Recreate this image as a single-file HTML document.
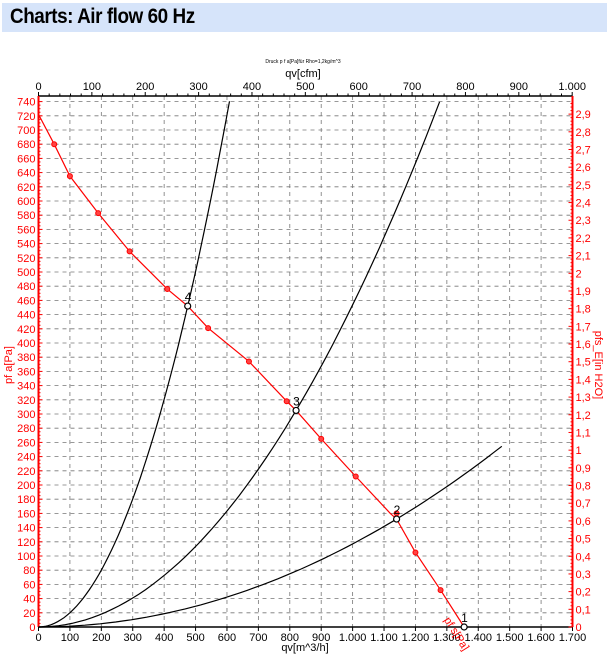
<!DOCTYPE html>
<html><head><meta charset="utf-8"><style>
body{margin:0;background:#fff;width:607px;height:659px;overflow:hidden;font-family:"Liberation Sans",sans-serif}
#hdr{position:absolute;left:2px;top:3px;width:605px;height:29px;background:#d6e4fa}
#hdr span{position:absolute;left:8px;top:2px;font-weight:bold;font-size:21px;letter-spacing:-0.5px;transform:scaleX(0.9);transform-origin:left;color:#000}
svg{position:absolute;left:0;top:0}
</style></head><body>
<div id="hdr"><span>Charts: Air flow 60 Hz</span></div>
<svg id="c" width="607" height="659"></svg>
<script>
const fanQ=[0,50,100,190,290,410,475,540,670,790,820,900,1010,1120,1140,1200,1280,1355];
const fanP=[722,680,635,583,529,476,452,421,374,318,305,265,212,160,152,105,52,0];
const markerQ=[50,100,190,290,410,540,670,790,900,1010,1140,1200,1280];
const markerP=[680,635,583,529,476,421,374,318,265,212,160,105,52];
const sysK=[0.002003,0.0004536,0.000117];
const sysEndQ=[608,1277,1475];
const opLabels=['4','3','2','1'];
const opQ=[475,820,1140,1355];
const opP=[452,305,152,0];
const xTicks=[0,100,200,300,400,500,600,700,800,900,1000,1100,1200,1300,1400,1500,1600,1700];
const cfmTicks=[0,100,200,300,400,500,600,700,800,900,1000];
const yTicks=[0,20,40,60,80,100,120,140,160,180,200,220,240,260,280,300,320,340,360,380,400,420,440,460,480,500,520,540,560,580,600,620,640,660,680,700,720,740];
const inTicks=[0,0.1,0.2,0.3,0.4,0.5,0.6,0.7,0.8,0.9,1,1.1,1.2,1.3,1.4,1.5,1.6,1.7,1.8,1.9,2,2.1,2.2,2.3,2.4,2.5,2.6,2.7,2.8,2.9];

const X0=38.5,X1=572.5,Y0=627,YT=96;
const sx=q=>X0+q*(X1-X0)/1700;
const sy=p=>Y0-p*0.71;
const sc=c=>sx(c*1.699);
const sin=v=>sy(v*249.09);
const svg=document.getElementById('c');
const NS='http://www.w3.org/2000/svg';
function mk(t,a,p){const e=document.createElementNS(NS,t);for(const k in a)e.setAttribute(k,a[k]);(p||svg).appendChild(e);return e;}
const fmt=v=>{let s=String(v);return s.replace(/\B(?=(\d{3})+(?!\d))/g,'.');};

// grid
const g=mk('g',{});


xTicks.forEach(q=>{if(q>0&&q<1700)mk('line',{x1:sx(q),x2:sx(q),y1:YT,y2:Y0,stroke:'#777','stroke-dasharray':'4,4','stroke-width':0.8},g);});
yTicks.forEach(p=>{if(p>0)mk('line',{x1:X0,x2:X1,y1:sy(p),y2:sy(p),stroke:'#777','stroke-dasharray':'4,4','stroke-width':0.8},g);});

// axes
const ax=mk('g',{});


mk('line',{x1:X0,x2:X1,y1:Y0,y2:Y0,stroke:'#000','stroke-width':1.5},ax);
mk('line',{x1:X0,x2:X1,y1:YT,y2:YT,stroke:'#000','stroke-width':1.5},ax);
mk('line',{x1:X0,x2:X0,y1:YT,y2:Y0,stroke:'#f00','stroke-width':2},ax);
mk('line',{x1:X1,x2:X1,y1:YT,y2:Y0,stroke:'#f00','stroke-width':2},ax);
xTicks.forEach(q=>{mk('line',{x1:sx(q),x2:sx(q),y1:Y0,y2:Y0+4,stroke:'#000'},ax);
 const t=mk('text',{x:sx(q),y:Y0+14,'font-size':11,'text-anchor':'middle',fill:'#000'},ax);t.textContent=fmt(q);
 
 });
for(let c=0;c<=1000;c+=20){mk('line',{x1:sc(c),x2:sc(c),y1:YT,y2:YT-(c%100==0?4:2.5),stroke:'#000'},ax);}
cfmTicks.forEach(c=>{const t=mk('text',{x:sc(c),y:YT-6,'font-size':11,'text-anchor':'middle',fill:'#000'},ax);t.textContent=fmt(c);
 
 });
for(let p=0;p<=740;p+=5){mk('line',{x1:X0,x2:X0+(p%20==0?4:2),y1:sy(p),y2:sy(p),stroke:'#f00'},ax);}
yTicks.forEach(p=>{const t=mk('text',{x:X0-3,y:sy(p)+4,'font-size':11,'text-anchor':'end',fill:'#f00'},ax);t.textContent=p;
 
 });
for(let v=0;v<=2.97;v+=0.02){mk('line',{x1:X1,x2:X1-(Math.round(v*100)%10==0?4:2),y1:sin(v),y2:sin(v),stroke:'#f00'},ax);}
inTicks.forEach(v=>{const t=mk('text',{x:X1+3,y:sin(v)+4,'font-size':11,fill:'#f00'},ax);t.textContent=String(v).replace('.',',');
 
 });

// titles
let t=mk('text',{x:303,y:63,'font-size':5,'text-anchor':'middle',fill:'#000'});t.textContent='Druck p f a[Pa]für Rho=1,2kg/m^3';


t=mk('text',{x:303,y:77,'font-size':11,'text-anchor':'middle',fill:'#000'});t.textContent='qv[cfm]';


t=mk('text',{x:305,y:651,'font-size':11,'text-anchor':'middle',fill:'#000'});t.textContent='qv[m^3/h]';


t=mk('text',{x:12,y:365,'font-size':11,'text-anchor':'middle',fill:'#f00',transform:'rotate(-90 12 365)'});t.textContent='pf a[Pa]';


t=mk('text',{x:595,y:365,'font-size':11,'text-anchor':'middle',fill:'#f00',transform:'rotate(90 595 365)'});t.textContent='pfs_E[in H2O]';



// system curves
sysK.forEach((k,i)=>{let d='';for(let j=0;j<=60;j++){const q=sysEndQ[i]*j/60;d+=(j?'L':'M')+sx(q).toFixed(1)+','+sy(k*q*q).toFixed(1);}
 const p=mk('path',{d,fill:'none',stroke:'#000','stroke-width':1.2});
 
 });

// fan curve
const fp=mk('polyline',{points:fanQ.map((q,i)=>sx(q)+','+sy(fanP[i])).join(' '),fill:'none',stroke:'#f00','stroke-width':1.2});


markerQ.forEach((q,i)=>{const c=mk('circle',{cx:sx(q),cy:sy(markerP[i]),r:2.5,fill:'#f44',stroke:'#f00'});
 
 });
t=mk('text',{x:sx(1290),y:sy(10),'font-size':11,fill:'#f00',transform:`rotate(58 ${sx(1290)} ${sy(10)})`});t.textContent='pf s[Pa]';



// operating points
opQ.forEach((q,i)=>{const c=mk('circle',{cx:sx(q),cy:sy(opP[i]),r:3,fill:'#fff',stroke:'#000','stroke-width':1.2});
 
 
 const l=mk('text',{x:sx(q)-3,y:sy(opP[i])-5,'font-size':12,fill:'#000'});l.textContent=opLabels[i];
 
 });
</script>
</body></html>
